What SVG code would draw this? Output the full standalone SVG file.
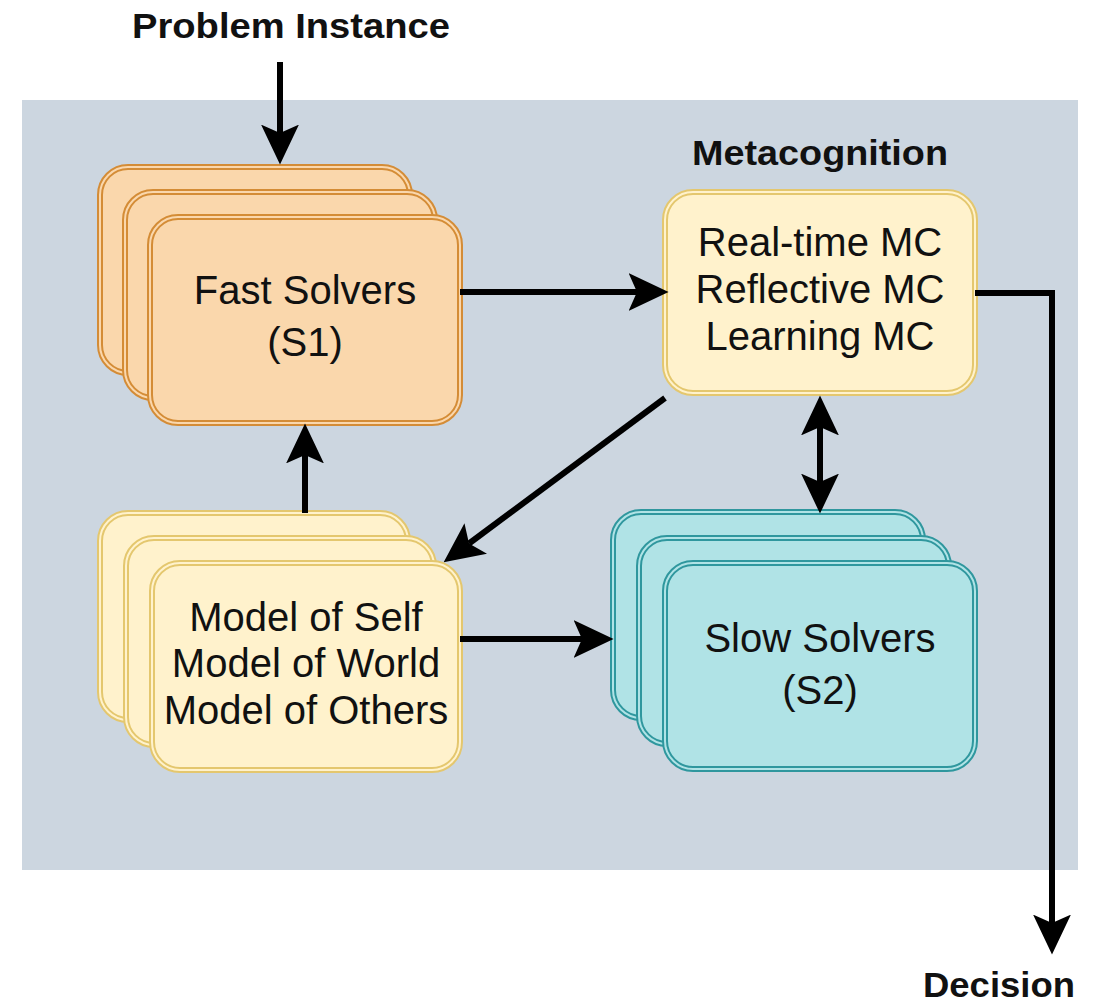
<svg xmlns="http://www.w3.org/2000/svg" width="1102" height="1006" viewBox="0 0 1102 1006">
  <style>
    .lbl { font-family: "Liberation Sans", Arial, Helvetica, sans-serif; font-size: 40px; fill: #111; text-anchor: middle; }
    .ttl { font-family: "Liberation Sans", Arial, Helvetica, sans-serif; font-size: 35px; font-weight: bold; fill: #111; text-anchor: middle; }
    .o-out { fill: #fad7ac; stroke: #d48c36; stroke-width: 6; }
    .o-in  { fill: none; stroke: #fad7ac; stroke-width: 2; }
    .y-out { fill: #fff2cc; stroke: #e4c76e; stroke-width: 6; }
    .y-in  { fill: none; stroke: #fff2cc; stroke-width: 2; }
    .t-out { fill: #b0e3e6; stroke: #2f979e; stroke-width: 6; }
    .t-in  { fill: none; stroke: #b0e3e6; stroke-width: 2; }
    .edge { fill: none; stroke: #000; stroke-width: 6; }
  </style>
  <defs>
    <marker id="ah" markerUnits="userSpaceOnUse" markerWidth="40" markerHeight="38" viewBox="0 0 38 36" refX="8" refY="18" orient="auto-start-reverse">
      <path d="M0,0 L38,18 L0,36 L8,18 Z" fill="#000"/>
    </marker>
  </defs>

  <rect id="panel" x="22" y="100" width="1056" height="770" fill="#ccd6e0"/>

  <g id="fast-solvers">
    <rect class="o-out" x="100" y="167" width="310" height="206" rx="28"/>
    <rect class="o-in" x="100" y="167" width="310" height="206" rx="28"/>
    <rect class="o-out" x="125" y="192" width="310" height="206" rx="28"/>
    <rect class="o-in" x="125" y="192" width="310" height="206" rx="28"/>
    <rect class="o-out" x="150" y="217" width="310" height="206" rx="28"/>
    <rect class="o-in" x="150" y="217" width="310" height="206" rx="28"/>
    <text class="lbl" x="305" y="304">Fast Solvers</text>
    <text class="lbl" x="305" y="356">(S1)</text>
  </g>

  <g id="metacognition">
    <text class="ttl" x="820" y="165" textLength="256" lengthAdjust="spacingAndGlyphs">Metacognition</text>
    <rect class="y-out" x="665" y="192" width="310" height="201" rx="28"/>
    <rect class="y-in" x="665" y="192" width="310" height="201" rx="28"/>
    <text class="lbl" x="820" y="256">Real-time MC</text>
    <text class="lbl" x="820" y="303">Reflective MC</text>
    <text class="lbl" x="820" y="350">Learning MC</text>
  </g>

  <g id="models">
    <rect class="y-out" x="100" y="513" width="308" height="207" rx="28"/>
    <rect class="y-in" x="100" y="513" width="308" height="207" rx="28"/>
    <rect class="y-out" x="126" y="538" width="308" height="207" rx="28"/>
    <rect class="y-in" x="126" y="538" width="308" height="207" rx="28"/>
    <rect class="y-out" x="152" y="563" width="308" height="207" rx="28"/>
    <rect class="y-in" x="152" y="563" width="308" height="207" rx="28"/>
    <text class="lbl" x="306" y="631">Model of Self</text>
    <text class="lbl" x="306" y="677">Model of World</text>
    <text class="lbl" x="306" y="724">Model of Others</text>
  </g>

  <g id="slow-solvers">
    <rect class="t-out" x="613" y="512" width="310" height="206" rx="28"/>
    <rect class="t-in" x="613" y="512" width="310" height="206" rx="28"/>
    <rect class="t-out" x="639" y="538" width="310" height="206" rx="28"/>
    <rect class="t-in" x="639" y="538" width="310" height="206" rx="28"/>
    <rect class="t-out" x="665" y="563" width="310" height="206" rx="28"/>
    <rect class="t-in" x="665" y="563" width="310" height="206" rx="28"/>
    <text class="lbl" x="820" y="652">Slow Solvers</text>
    <text class="lbl" x="820" y="704">(S2)</text>
  </g>

  <g id="problem-instance">
    <text class="ttl" x="291" y="38" textLength="318" lengthAdjust="spacingAndGlyphs">Problem Instance</text>
  </g>
  <g id="decision">
    <text class="ttl" x="999" y="997" textLength="152" lengthAdjust="spacingAndGlyphs">Decision</text>
  </g>

  <g id="connectors">
    <path class="edge" d="M280,62 V133" marker-end="url(#ah)"/>
    <path class="edge" d="M460,292 H637" marker-end="url(#ah)"/>
    <path class="edge" d="M975,293 H1052 V923" marker-end="url(#ah)"/>
    <path class="edge" d="M820,427 V482" marker-start="url(#ah)" marker-end="url(#ah)"/>
    <path class="edge" d="M665,398 L469,543.5" marker-end="url(#ah)"/>
    <path class="edge" d="M305,513 V455" marker-end="url(#ah)"/>
    <path class="edge" d="M460,639 H582" marker-end="url(#ah)"/>
  </g>
</svg>
